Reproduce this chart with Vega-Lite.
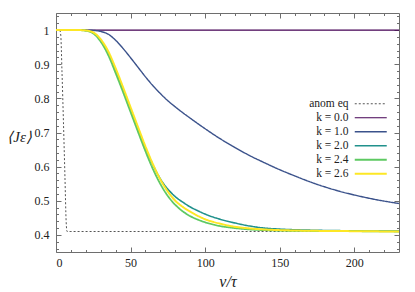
{
  "$schema": "https://vega.github.io/schema/vega-lite/v6.json",
  "width": 343,
  "height": 239,
  "autosize": {"type": "none"},
  "padding": {"left": 56, "top": 13, "right": 16, "bottom": 40},
  "background": "white",
  "config": {
    "view": {"stroke": "#6e6e6e", "strokeWidth": 1},
    "font": "Liberation Serif",
    "axis": {
      "grid": false,
      "domain": false,
      "tickColor": "#6e6e6e",
      "tickWidth": 1,
      "labelFont": "Liberation Serif",
      "labelFontSize": 12,
      "labelColor": "#222222",
      "titleFont": "Liberation Serif",
      "titleColor": "#222222",
      "titleFontWeight": "normal"
    }
  },
  "data": {
    "values": [
      {"series": "anom eq", "v": 0, "J": 1},
      {"series": "anom eq", "v": 2.5, "J": 1},
      {"series": "anom eq", "v": 3.2, "J": 0.985},
      {"series": "anom eq", "v": 4, "J": 0.88},
      {"series": "anom eq", "v": 5, "J": 0.73},
      {"series": "anom eq", "v": 6, "J": 0.57},
      {"series": "anom eq", "v": 6.8, "J": 0.44},
      {"series": "anom eq", "v": 7.4, "J": 0.41},
      {"series": "anom eq", "v": 10, "J": 0.41},
      {"series": "anom eq", "v": 230, "J": 0.41},

      {"series": "k = 0.0", "v": 0, "J": 1},
      {"series": "k = 0.0", "v": 230, "J": 1},

      {"series": "k = 1.0", "v": 0, "J": 1},
      {"series": "k = 1.0", "v": 20, "J": 1},
      {"series": "k = 1.0", "v": 25, "J": 0.999},
      {"series": "k = 1.0", "v": 30, "J": 0.996},
      {"series": "k = 1.0", "v": 35, "J": 0.988},
      {"series": "k = 1.0", "v": 40, "J": 0.97},
      {"series": "k = 1.0", "v": 45, "J": 0.946},
      {"series": "k = 1.0", "v": 50, "J": 0.919},
      {"series": "k = 1.0", "v": 55, "J": 0.891},
      {"series": "k = 1.0", "v": 60, "J": 0.863},
      {"series": "k = 1.0", "v": 65, "J": 0.837},
      {"series": "k = 1.0", "v": 70, "J": 0.814},
      {"series": "k = 1.0", "v": 75, "J": 0.793},
      {"series": "k = 1.0", "v": 80, "J": 0.775},
      {"series": "k = 1.0", "v": 85, "J": 0.758},
      {"series": "k = 1.0", "v": 90, "J": 0.742},
      {"series": "k = 1.0", "v": 100, "J": 0.711},
      {"series": "k = 1.0", "v": 110, "J": 0.682},
      {"series": "k = 1.0", "v": 120, "J": 0.656},
      {"series": "k = 1.0", "v": 130, "J": 0.632},
      {"series": "k = 1.0", "v": 140, "J": 0.611},
      {"series": "k = 1.0", "v": 150, "J": 0.591},
      {"series": "k = 1.0", "v": 160, "J": 0.573},
      {"series": "k = 1.0", "v": 170, "J": 0.556},
      {"series": "k = 1.0", "v": 180, "J": 0.541},
      {"series": "k = 1.0", "v": 190, "J": 0.528},
      {"series": "k = 1.0", "v": 200, "J": 0.517},
      {"series": "k = 1.0", "v": 215, "J": 0.503},
      {"series": "k = 1.0", "v": 230, "J": 0.492},

      {"series": "k = 2.0", "v": 0, "J": 1},
      {"series": "k = 2.0", "v": 15, "J": 1},
      {"series": "k = 2.0", "v": 20, "J": 0.999},
      {"series": "k = 2.0", "v": 25, "J": 0.992},
      {"series": "k = 2.0", "v": 30, "J": 0.97},
      {"series": "k = 2.0", "v": 35, "J": 0.933},
      {"series": "k = 2.0", "v": 40, "J": 0.881},
      {"series": "k = 2.0", "v": 45, "J": 0.825},
      {"series": "k = 2.0", "v": 50, "J": 0.767},
      {"series": "k = 2.0", "v": 55, "J": 0.709},
      {"series": "k = 2.0", "v": 60, "J": 0.654},
      {"series": "k = 2.0", "v": 65, "J": 0.605},
      {"series": "k = 2.0", "v": 70, "J": 0.564},
      {"series": "k = 2.0", "v": 75, "J": 0.534},
      {"series": "k = 2.0", "v": 80, "J": 0.512},
      {"series": "k = 2.0", "v": 85, "J": 0.496},
      {"series": "k = 2.0", "v": 90, "J": 0.482},
      {"series": "k = 2.0", "v": 95, "J": 0.471},
      {"series": "k = 2.0", "v": 100, "J": 0.461},
      {"series": "k = 2.0", "v": 110, "J": 0.446},
      {"series": "k = 2.0", "v": 120, "J": 0.435},
      {"series": "k = 2.0", "v": 130, "J": 0.426},
      {"series": "k = 2.0", "v": 140, "J": 0.42},
      {"series": "k = 2.0", "v": 150, "J": 0.417},
      {"series": "k = 2.0", "v": 170, "J": 0.414},
      {"series": "k = 2.0", "v": 200, "J": 0.412},
      {"series": "k = 2.0", "v": 230, "J": 0.411},

      {"series": "k = 2.4", "v": 0, "J": 1},
      {"series": "k = 2.4", "v": 15, "J": 1},
      {"series": "k = 2.4", "v": 20, "J": 0.998},
      {"series": "k = 2.4", "v": 25, "J": 0.99},
      {"series": "k = 2.4", "v": 30, "J": 0.966},
      {"series": "k = 2.4", "v": 35, "J": 0.927},
      {"series": "k = 2.4", "v": 40, "J": 0.874},
      {"series": "k = 2.4", "v": 45, "J": 0.818},
      {"series": "k = 2.4", "v": 50, "J": 0.76},
      {"series": "k = 2.4", "v": 55, "J": 0.702},
      {"series": "k = 2.4", "v": 60, "J": 0.645},
      {"series": "k = 2.4", "v": 65, "J": 0.593},
      {"series": "k = 2.4", "v": 70, "J": 0.549},
      {"series": "k = 2.4", "v": 75, "J": 0.514},
      {"series": "k = 2.4", "v": 80, "J": 0.488},
      {"series": "k = 2.4", "v": 85, "J": 0.469},
      {"series": "k = 2.4", "v": 90, "J": 0.455},
      {"series": "k = 2.4", "v": 95, "J": 0.445},
      {"series": "k = 2.4", "v": 100, "J": 0.437},
      {"series": "k = 2.4", "v": 110, "J": 0.426},
      {"series": "k = 2.4", "v": 120, "J": 0.42},
      {"series": "k = 2.4", "v": 130, "J": 0.416},
      {"series": "k = 2.4", "v": 140, "J": 0.414},
      {"series": "k = 2.4", "v": 160, "J": 0.412},
      {"series": "k = 2.4", "v": 200, "J": 0.411},
      {"series": "k = 2.4", "v": 230, "J": 0.41},

      {"series": "k = 2.6", "v": 0, "J": 1},
      {"series": "k = 2.6", "v": 15, "J": 1},
      {"series": "k = 2.6", "v": 20, "J": 0.999},
      {"series": "k = 2.6", "v": 25, "J": 0.993},
      {"series": "k = 2.6", "v": 30, "J": 0.973},
      {"series": "k = 2.6", "v": 35, "J": 0.938},
      {"series": "k = 2.6", "v": 40, "J": 0.888},
      {"series": "k = 2.6", "v": 45, "J": 0.832},
      {"series": "k = 2.6", "v": 50, "J": 0.774},
      {"series": "k = 2.6", "v": 55, "J": 0.716},
      {"series": "k = 2.6", "v": 60, "J": 0.659},
      {"series": "k = 2.6", "v": 65, "J": 0.607},
      {"series": "k = 2.6", "v": 70, "J": 0.562},
      {"series": "k = 2.6", "v": 75, "J": 0.527},
      {"series": "k = 2.6", "v": 80, "J": 0.5},
      {"series": "k = 2.6", "v": 85, "J": 0.482},
      {"series": "k = 2.6", "v": 90, "J": 0.468},
      {"series": "k = 2.6", "v": 95, "J": 0.456},
      {"series": "k = 2.6", "v": 100, "J": 0.446},
      {"series": "k = 2.6", "v": 110, "J": 0.433},
      {"series": "k = 2.6", "v": 120, "J": 0.424},
      {"series": "k = 2.6", "v": 130, "J": 0.419},
      {"series": "k = 2.6", "v": 140, "J": 0.416},
      {"series": "k = 2.6", "v": 160, "J": 0.413},
      {"series": "k = 2.6", "v": 200, "J": 0.411},
      {"series": "k = 2.6", "v": 230, "J": 0.41}
    ]
  },
  "resolve": {"axis": {"x": "independent", "y": "independent"}},
  "layer": [
    {
      "mark": {"type": "line", "interpolate": "monotone"},
      "encoding": {
        "x": {
          "field": "v", "type": "quantitative",
          "scale": {"domain": [0, 230], "nice": false, "zero": false},
          "axis": {
            "orient": "bottom", "values": [0, 50, 100, 150, 200], "tickSize": -5,
            "labelPadding": 10.5, "format": "d",
            "title": "v/τ", "titleFontStyle": "italic", "titleFontSize": 16,
            "titleY": 29, "titleBaseline": "middle"
          }
        },
        "y": {
          "field": "J", "type": "quantitative",
          "scale": {"domain": [0.35, 1.05], "nice": false, "zero": false},
          "axis": {
            "orient": "left", "values": [0.4, 0.5, 0.6, 0.7, 0.8, 0.9, 1], "tickSize": -5,
            "labelPadding": 12, "format": "~g",
            "title": "⟨Jε⟩", "titleAngle": 0, "titleFontStyle": "italic", "titleFontSize": 15,
            "titleX": -37, "titleY": 123, "titleAlign": "center", "titleBaseline": "middle"
          }
        },
        "color": {
          "field": "series", "type": "nominal",
          "scale": {
            "domain": ["anom eq", "k = 0.0", "k = 1.0", "k = 2.0", "k = 2.4", "k = 2.6"],
            "range": ["#555555", "#440154", "#3b528b", "#21918c", "#5ec962", "#fde725"]
          },
          "legend": {
            "title": null, "orient": "none", "legendX": 309, "legendY": 85,
            "symbolType": "M-4,0H4", "symbolSize": 64,
            "labelAlign": "right", "labelOffset": -28, "labelFontSize": 11.5,
            "labelFont": "Liberation Serif", "labelColor": "#222222",
            "rowPadding": 1, "padding": 0
          }
        },
        "strokeDash": {
          "field": "series", "type": "nominal",
          "scale": {
            "domain": ["anom eq", "k = 0.0", "k = 1.0", "k = 2.0", "k = 2.4", "k = 2.6"],
            "range": [[2, 2], [1, 0], [1, 0], [1, 0], [1, 0], [1, 0]]
          }
        },
        "strokeWidth": {
          "field": "series", "type": "nominal",
          "scale": {
            "domain": ["anom eq", "k = 0.0", "k = 1.0", "k = 2.0", "k = 2.4", "k = 2.6"],
            "range": [1, 2, 2, 2, 2, 2]
          }
        }
      }
    },
    {
      "mark": {"type": "point", "opacity": 0},
      "encoding": {
        "x": {
          "field": "v", "type": "quantitative",
          "scale": {"domain": [0, 230], "nice": false, "zero": false},
          "axis": {"orient": "top", "values": [0, 50, 100, 150, 200], "tickSize": -5, "labels": false, "title": null}
        },
        "y": {
          "field": "J", "type": "quantitative",
          "scale": {"domain": [0.35, 1.05], "nice": false, "zero": false},
          "axis": {"orient": "right", "values": [0.4, 0.5, 0.6, 0.7, 0.8, 0.9, 1], "tickSize": -5, "labels": false, "title": null}
        }
      }
    },
    {
      "mark": {"type": "point", "opacity": 0},
      "encoding": {
        "x": {
          "field": "v", "type": "quantitative",
          "scale": {"domain": [0, 230], "nice": false, "zero": false},
          "axis": {"orient": "bottom", "values": [10, 20, 30, 40, 60, 70, 80, 90, 110, 120, 130, 140, 160, 170, 180, 190, 210, 220], "tickSize": -2.5, "labels": false, "title": null}
        },
        "y": {
          "field": "J", "type": "quantitative",
          "scale": {"domain": [0.35, 1.05], "nice": false, "zero": false},
          "axis": {"orient": "left", "values": [0.36, 0.38, 0.42, 0.44, 0.46, 0.48, 0.52, 0.54, 0.56, 0.58, 0.62, 0.64, 0.66, 0.68, 0.72, 0.74, 0.76, 0.78, 0.82, 0.84, 0.86, 0.88, 0.92, 0.94, 0.96, 0.98, 1.02, 1.04], "tickSize": -2.5, "labels": false, "title": null}
        }
      }
    },
    {
      "mark": {"type": "point", "opacity": 0},
      "encoding": {
        "x": {
          "field": "v", "type": "quantitative",
          "scale": {"domain": [0, 230], "nice": false, "zero": false},
          "axis": {"orient": "top", "values": [10, 20, 30, 40, 60, 70, 80, 90, 110, 120, 130, 140, 160, 170, 180, 190, 210, 220], "tickSize": -2.5, "labels": false, "title": null}
        },
        "y": {
          "field": "J", "type": "quantitative",
          "scale": {"domain": [0.35, 1.05], "nice": false, "zero": false},
          "axis": {"orient": "right", "values": [0.36, 0.38, 0.42, 0.44, 0.46, 0.48, 0.52, 0.54, 0.56, 0.58, 0.62, 0.64, 0.66, 0.68, 0.72, 0.74, 0.76, 0.78, 0.82, 0.84, 0.86, 0.88, 0.92, 0.94, 0.96, 0.98, 1.02, 1.04], "tickSize": -2.5, "labels": false, "title": null}
        }
      }
    }
  ]
}
